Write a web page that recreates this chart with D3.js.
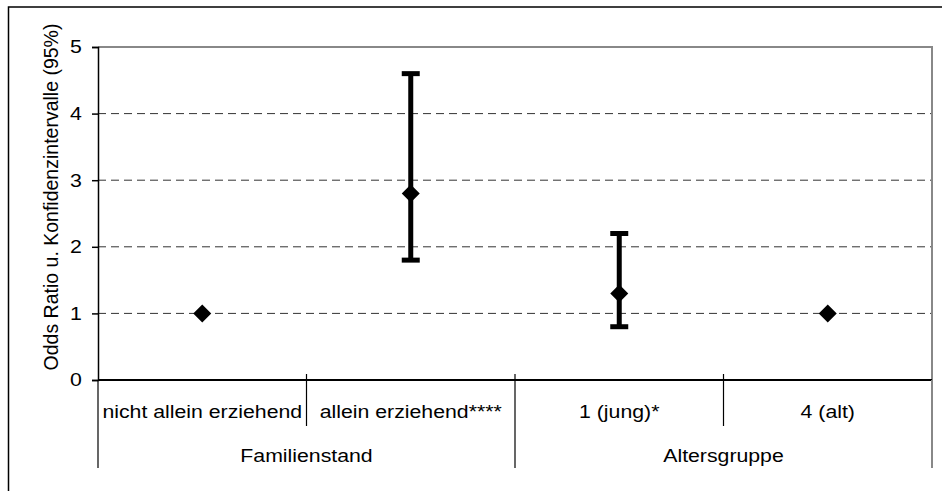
<!DOCTYPE html>
<html>
<head>
<meta charset="utf-8">
<script src="https://cdn.jsdelivr.net/npm/d3@7"></script>
<style>
  body { margin: 0; background: #fff; }
  text { font-family: Arial, "Liberation Sans", sans-serif; fill: #000; }
</style>
</head>
<body>
<script>
// chart data
var categories = ['nicht allein erziehend', 'allein erziehend****', '1 (jung)*', '4 (alt)'];
var groups = ['Familienstand', 'Altersgruppe'];
var groupOf = ['Familienstand', 'Familienstand', 'Altersgruppe', 'Altersgruppe'];
var oddsRatio = [1, 2.8, 1.3, 1];
var ciLow = [null, 1.8, 0.8, null];
var ciHigh = [null, 4.6, 2.2, null];
var yTicks = [0, 1, 2, 3, 4, 5];
var yTitle = 'Odds Ratio u. Konfidenzintervalle (95%)';

var width = 942, height = 491;
var plotLeft = 98, plotRight = 932, plotTop = 47, plotBottom = 380;
var fontSize = 18.5, stretch = 'scale(1.15,1)';

var svg = d3.select('body').append('svg')
  .attr('width', width)
  .attr('height', height);

// outer frame (runs off the picture on right and bottom)
svg.append('rect')
  .attr('x', 8.5).attr('y', 7)
  .attr('width', 1000).attr('height', 1000)
  .attr('fill', 'none').attr('stroke', '#000').attr('stroke-width', 1.5);

var x = d3.scaleBand().domain(categories).range([plotLeft, plotRight]).padding(0);
var y = d3.scaleLinear().domain([0, 5]).range([plotBottom, plotTop]);

// grid
svg.append('g').selectAll('line')
  .data(yTicks.filter(function(d) { return d > 0 && d < 5; }))
  .enter().append('line')
  .attr('x1', plotLeft).attr('x2', plotRight)
  .attr('y1', function(d) { return y(d); })
  .attr('y2', function(d) { return y(d); })
  .attr('stroke', '#333')
  .attr('stroke-width', 1)
  .attr('stroke-dasharray', '8,5');

// plot frame top + right in gray
svg.append('path')
  .attr('d', 'M' + plotLeft + ',' + y(5) + 'H' + plotRight + 'V' + plotBottom)
  .attr('fill', 'none').attr('stroke', '#888').attr('stroke-width', 2);

// y axis
var yAxis = svg.append('g')
  .attr('transform', 'translate(' + plotLeft + ',0)')
  .call(d3.axisLeft(y).tickValues(yTicks).tickSize(6).tickPadding(8).tickFormat(d3.format('d')));
yAxis.select('.domain').attr('stroke', '#000').attr('stroke-width', 1.5);
yAxis.selectAll('.tick line').attr('stroke', '#000').attr('stroke-width', 1.5);
yAxis.selectAll('text')
  .attr('font-size', fontSize)
  .attr('font-family', 'Arial, "Liberation Sans", sans-serif')
  .attr('transform', stretch);

svg.append('text')
  .attr('transform', 'translate(58,197) rotate(-90)')
  .attr('text-anchor', 'middle')
  .attr('font-size', 19.5)
  .text(yTitle);

// x axis line
svg.append('line')
  .attr('x1', plotLeft).attr('x2', plotRight)
  .attr('y1', plotBottom).attr('y2', plotBottom)
  .attr('stroke', '#000').attr('stroke-width', 2);

// category labels via band axis
var xAxis = svg.append('g')
  .attr('transform', 'translate(0,' + plotBottom + ')')
  .call(d3.axisBottom(x).tickSize(0).tickPadding(24.5));
xAxis.select('.domain').remove();
xAxis.selectAll('text')
  .attr('font-size', fontSize)
  .attr('font-family', 'Arial, "Liberation Sans", sans-serif')
  .attr('transform', stretch);

// category dividers
var edges = categories.map(function(c) { return x(c); }).concat([plotRight]);
svg.append('g').selectAll('line')
  .data(edges)
  .enter().append('line')
  .attr('x1', function(d) { return d; })
  .attr('x2', function(d) { return d; })
  .attr('y1', function(d, i) { return (i === 0 || i === edges.length - 1) ? plotBottom : plotBottom - 6; })
  .attr('y2', function(d, i) {
    var isGroupEdge = i === 0 || i === edges.length - 1 || groupOf[i] !== groupOf[i - 1];
    return isGroupEdge ? 468 : 426;
  })
  .attr('stroke', function(d, i) { return i === edges.length - 1 ? '#888' : '#000'; })
  .attr('stroke-width', function(d, i) { return i === edges.length - 1 ? 2 : 1.2; });

// group labels
svg.append('g').selectAll('g')
  .data(groups)
  .enter().append('g')
  .attr('transform', function(g) {
    var idx = groupOf.map(function(v, i) { return v === g ? i : -1; }).filter(function(i) { return i >= 0; });
    var gx = (x(categories[idx[0]]) + x(categories[idx[idx.length - 1]]) + x.bandwidth()) / 2;
    return 'translate(' + gx + ',461.5)';
  })
  .append('text')
  .attr('text-anchor', 'middle')
  .attr('font-size', fontSize)
  .attr('transform', stretch)
  .text(function(g) { return g; });

// error bars
var cx = function(i) { return x(categories[i]) + x.bandwidth() / 2; };
var bars = svg.append('g');
categories.forEach(function(c, i) {
  if (ciLow[i] === null) return;
  bars.append('line')
    .attr('x1', cx(i)).attr('x2', cx(i))
    .attr('y1', y(ciLow[i])).attr('y2', y(ciHigh[i]))
    .attr('stroke', '#000').attr('stroke-width', 5);
  [ciLow[i], ciHigh[i]].forEach(function(v) {
    bars.append('line')
      .attr('x1', cx(i) - 9).attr('x2', cx(i) + 9)
      .attr('y1', y(v)).attr('y2', y(v))
      .attr('stroke', '#000').attr('stroke-width', 5);
  });
});

// diamonds
svg.append('g').selectAll('path')
  .data(oddsRatio)
  .enter().append('path')
  .attr('transform', function(d, i) { return 'translate(' + cx(i) + ',' + y(d) + ')'; })
  .attr('d', 'M0,-9L9,0L0,9L-9,0Z')
  .attr('fill', '#000');
</script>
</body>
</html>
